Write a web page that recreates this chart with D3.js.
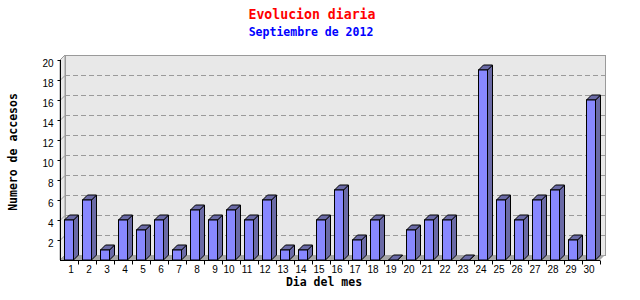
<!DOCTYPE html>
<html>
<head>
<meta charset="utf-8">
<script src="https://cdn.jsdelivr.net/npm/d3@7"></script>
<style>
  body { margin: 0; background: #fff; }
  svg { display: block; }
  .tick text { font-family: "Liberation Sans", Arial, sans-serif; font-size: 10px; fill: #000; }
</style>
</head>
<body>
<svg id="chart" width="640" height="300"></svg>
<script>
// Visits per day, September 2012
const days = d3.range(1, 31).map(String);
const visits = [4, 6, 1, 4, 3, 4, 1, 5, 4, 5, 4, 6, 1, 1, 4, 7, 2, 4, 0, 3, 4, 4, 0, 19, 6, 4, 6, 7, 2, 16];
const yTicks = [2, 4, 6, 8, 10, 12, 14, 16, 18, 20];

const title = "Evolucion diaria";
const subtitle = "Septiembre de 2012";
const xTitle = "Dia del mes";
const yTitle = "Numero de accesos";

const plot = { left: 60, right: 600, top: 60, bottom: 260 };
const D = 5; // 3D depth offset

const svg = d3.select("#chart");

const x = d3.scaleBand().domain(days).range([plot.left, plot.right]).paddingInner(0.5).paddingOuter(0.25);
const y = d3.scaleLinear().domain([0, 20]).range([plot.bottom, plot.top]);

// back wall
svg.append("rect")
  .attr("x", plot.left + D + 0.5).attr("y", plot.top - D + 0.5)
  .attr("width", plot.right - plot.left).attr("height", plot.bottom - plot.top)
  .attr("fill", "#e8e8e8").attr("stroke", "#9a9a9a").attr("stroke-width", 1);

// side wall
svg.append("polygon")
  .attr("points", [[plot.left, plot.top], [plot.left + D, plot.top - D], [plot.left + D, plot.bottom - D], [plot.left, plot.bottom]].join(" "))
  .attr("fill", "#e8e8e8").attr("stroke", "#9a9a9a").attr("stroke-width", 1);

// floor
svg.append("polygon")
  .attr("points", [[plot.left, plot.bottom], [plot.left + D, plot.bottom - D], [plot.right + D, plot.bottom - D], [plot.right, plot.bottom]].join(" "))
  .attr("fill", "#a6a6a6");

// grid lines on the back wall
const grid = svg.append("g");
yTicks.filter(v => v < 20).forEach(v => {
  const yy = Math.round(y(v)) - D + 0.5;
  grid.append("line")
    .attr("x1", plot.left + D).attr("x2", plot.right + D).attr("y1", yy).attr("y2", yy)
    .attr("stroke", "#9a9a9a").attr("stroke-dasharray", "5,3");
  grid.append("line")
    .attr("x1", plot.left).attr("x2", plot.left + D).attr("y1", y(v) + 0.5).attr("y2", yy)
    .attr("stroke", "#9a9a9a");
});

// bars
const bars = svg.append("g").selectAll("g").data(days).join("g");
bars.each(function (d, i) {
  const g = d3.select(this);
  const x0 = x(d), x1 = x(d) + x.bandwidth();
  const yt = y(visits[i]);
  g.append("polygon")
    .attr("points", [[x1, yt], [x1 + D, yt - D], [x1 + D, plot.bottom - D], [x1, plot.bottom]].join(" "))
    .attr("fill", "#6a6aa6").attr("stroke", "#000").attr("stroke-width", 1).attr("stroke-linejoin", "round");
  g.append("polygon")
    .attr("points", [[x0, yt], [x0 + D, yt - D], [x1 + D, yt - D], [x1, yt]].join(" "))
    .attr("fill", "#6a6aa6").attr("stroke", "#000").attr("stroke-width", 1).attr("stroke-linejoin", "round");
  if (visits[i] > 0) {
    g.append("rect")
      .attr("x", x0).attr("y", yt).attr("width", x1 - x0).attr("height", plot.bottom - yt)
      .attr("fill", "#8888ff").attr("stroke", "#000").attr("stroke-width", 1);
  }
});

// y axis
const yAxis = svg.append("g").attr("transform", `translate(${plot.left + 0.5},0)`)
  .call(d3.axisLeft(y).tickValues(yTicks).tickSize(3).tickPadding(4).tickFormat(d3.format("d")));
yAxis.select(".domain").attr("d", `M0,${plot.top}V${plot.bottom}`).attr("stroke", "#000");
yAxis.selectAll(".tick text").attr("dy", "0.6em");

// x axis
const xAxis = svg.append("g").attr("transform", `translate(0,${plot.bottom + 0.5})`)
  .call(d3.axisBottom(x).tickSize(0).tickPadding(5));
xAxis.select(".domain").attr("d", `M${plot.left},0H${plot.right}`).attr("stroke", "#000");
xAxis.selectAll(".tick text").attr("dx", d => d.length === 1 ? 2 : -2);
// tick marks between days
const bounds = days.map(d => x(d) + x.bandwidth() + x.step() * 0.25);
xAxis.selectAll(".sep").data(bounds).join("line")
  .attr("class", "sep")
  .attr("x1", d => Math.round(d) + 0.5).attr("x2", d => Math.round(d) + 0.5)
  .attr("y1", 0).attr("y2", 4).attr("stroke", "#000");

// titles
const mono = "'DejaVu Sans Mono', monospace";
svg.append("text").attr("x", 312).attr("y", 18.5).attr("text-anchor", "middle")
  .attr("font-family", mono).attr("font-weight", "bold").attr("font-size", 13.2)
  .attr("fill", "#ff0000").text(title);
svg.append("text").attr("x", 311).attr("y", 36).attr("text-anchor", "middle")
  .attr("font-family", mono).attr("font-weight", "bold").attr("font-size", 11.5)
  .attr("fill", "#0000ff").text(subtitle);
svg.append("text").attr("x", 324).attr("y", 286).attr("text-anchor", "middle")
  .attr("font-family", mono).attr("font-weight", "bold").attr("font-size", 11.5)
  .attr("fill", "#000").text(xTitle);
svg.append("text").attr("transform", "translate(17,152) rotate(-90)").attr("text-anchor", "middle")
  .attr("font-family", mono).attr("font-weight", "bold").attr("font-size", 11.5)
  .attr("fill", "#000").text(yTitle);
</script>
</body>
</html>
